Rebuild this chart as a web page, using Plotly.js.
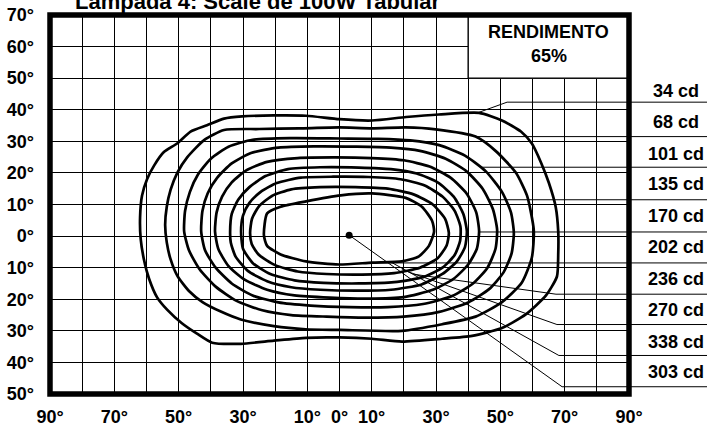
<!DOCTYPE html>
<html>
<head>
<meta charset="utf-8">
<script src="https://cdn.plot.ly/plotly-3.0.1.min.js"></script>
<style>html,body{margin:0;padding:0;background:#fff;}#chart{width:707px;height:438px;}</style>
</head>
<body>
<div id="chart"></div>
<script>
// ---- axis ticks ----
const xTickVals = [-90,-80,-70,-60,-50,-40,-30,-20,-10,0,10,20,30,40,50,60,70,80,90];
const xTickText = ['90°','','70°','','50°','','30°','','10°','0°','10°','','30°','','50°','','70°','','90°'];
const yTickVals = [-50,-40,-30,-20,-10,0,10,20,30,40,50,60,70];
const yTickText = ['50°','40°','30°','20°','10°','0°','10°','20°','30°','40°','50°','60°','70°'];

// ---- iso-candela curves (degrees) ----
const c34x = [-62.0,-61.4,-59.8,-57.6,-54.6,-50.5,-46.3,-41.2,-35.9,-30.3,-20.4,-10.4,0,10.1,20.7,30.9,43.4,50.5,56.4,59.8,62.6,65.1,67.2,68.0,68.0,67.6,64.2,57.9,50.5,41.2,31.9,19.4,10.1,0,-10.4,-20.4,-30.6,-39.6,-44.3,-49.0,-53.6,-56.7,-59.2,-60.8,-61.8,-62.0];
const c34y = [5.9,12.8,18.1,22.4,26.6,29.3,33.1,35.1,37.2,37.9,38.2,38.1,37.0,36.6,37.7,38.5,39.0,36.6,33.1,29.3,23.4,16.8,9.3,1.4,-5.8,-12.8,-18.8,-24.8,-29.1,-31.6,-32.5,-33.4,-32.5,-32.1,-32.2,-33.1,-34.1,-33.75,-30.9,-27.6,-23.3,-19.4,-13.5,-7.4,-1.0,5.9];
const c68x = [-54.2,-53.7,-52.5,-50.4,-47.3,-42.1,-35.9,-25,-12.6,0,10.1,20.6,29.9,42.3,48.6,54.8,58.3,60.4,59.8,56.7,50.5,42.3,31.9,19.4,0,-10.5,-20.4,-30.7,-36.9,-42.6,-46.8,-50.4,-52.5,-53.7,-54.2];
const c68y = [3.5,9.3,14.7,20.1,25.0,30.4,33.6,33.9,34.1,34.4,34.1,34.4,33.8,31.5,26.9,20.1,12.8,1.8,-6.8,-14.7,-20.9,-25.5,-27.9,-30.0,-29.7,-29.5,-28.5,-26.4,-23.9,-20.9,-17.4,-12.6,-7.4,-2.0,3.5];
const c101x = [-48.3,-48.0,-46.5,-44,-40,-34.5,-27,-15,0,12,22,31,39,45.5,50.5,53.3,54.2,53.5,51,46.5,40,31,20,8,-4,-15,-24,-32,-38.5,-43.5,-46.8,-48.3];
const c101y = [1.5,8,14,19.5,24.5,28.3,30.5,31,30.9,30.8,30.3,28.8,25.5,20.5,14,7.5,1,-5.5,-11.5,-16.8,-21,-24,-25.5,-25.8,-25.5,-25,-23.5,-20.5,-16,-10.5,-4.5,1.5];
const c135x = [-43.0,-42.6,-41,-38,-33.5,-27.5,-19,-8,5,16,25,33,39.5,44.5,47.7,49.0,48.5,46,41.5,35,26,15,3,-9,-19,-27,-33.5,-38.5,-41.8,-43.0];
const c135y = [1.5,8,13.5,18.5,23,26.3,28,28.4,28.3,28,27,24.5,20.5,15,8.5,2,-4,-10,-15,-19,-21.5,-22.5,-22.5,-22,-21,-18.8,-15,-10,-4.5,1.5];
const c170x = [-38.7,-38.2,-36.5,-33.5,-29,-22.5,-13,-2,10,20,28,34.5,39.5,42.5,43.4,42.7,40,35.5,29,20,9,-3,-14,-22.5,-29.5,-34.5,-37.7,-38.7];
const c170y = [1.5,7.5,12.5,17,20.8,23.5,24.7,24.9,24.7,24,22,18.5,13.5,7.5,1.5,-4,-9,-13.5,-17,-19.3,-19.8,-19.5,-18.8,-17,-13.8,-9.5,-4,1.5];
const c202x = [-34.0,-33.5,-31.5,-28,-23,-16,-6,6,16,24,30.5,35.5,38.5,39.6,39,36.5,32,25.5,16,5,-6,-15,-22.5,-28.5,-32.3,-33.8,-34.0];
const c202y = [1.5,7,11.5,15.5,19,21.2,21.8,21.7,21.2,19.8,17,12.5,7,1.5,-3.5,-8,-12,-15.3,-17,-17.3,-17,-16.2,-14.3,-11,-6.5,-2,1.5];
const c236x = [-30.6,-30,-28,-24.5,-19.5,-12,-2,9,19,26.5,32,35.8,37.6,37.5,35.8,32,26,17,6,-5,-14,-21.5,-27,-30,-30.6];
const c236y = [1.5,6.5,10.5,14,16.8,18.5,18.8,18.7,18,16,12.5,8,3,-1.5,-6,-10,-13,-14.6,-15,-14.8,-14,-12,-8.5,-4,1.5];
const c270x = [-27.8,-27.2,-25,-21,-15,-6,5,15,23,29,32.8,34.0,33.3,30.5,25,17,7,-4,-13,-20,-25,-27.3,-27.8];
const c270y = [1,5.5,9.5,12.7,14.8,15.5,15.5,15,13.2,10,5.5,1,-3,-7,-10,-11.7,-12.2,-12,-11.2,-9.2,-6,-2.5,1];
const c338x = [-23.5,-22.5,-18.3,-10.4,0.4,10.1,20.6,25.6,28.8,29.4,27.8,24.7,19.4,10.1,-0.2,-10.4,-18.3,-22.5,-23.5];
const c338y = [0.3,7.2,9.3,11.0,12.9,13.5,12.1,9.3,4.8,1.4,-3.1,-6.4,-8.0,-8.4,-9.0,-8.0,-5.8,-3.1,0.3];

const centerX = [3];
const centerY = [0.3];

// ---- legend (right column) ----
const levelLabels = ['34 cd','68 cd','101 cd','135 cd','170 cd','202 cd','236 cd','270 cd','338 cd','303 cd'];
const labelY = [46.0,36.2,25.9,16.4,6.4,-3.6,-13.5,-23.4,-33.6,-43.0];
const sepY   = [42.4,31.5,21.8,11.5,1.3,-8.5,-18.4,-28.0,-37.8,-47.7];
const leadX0 = [43.4,42.3,43.8,46.2,43.4,8,23.2,19.4,16.3,3];
const leadY0 = [39.2,31.5,21.8,11.5,1.3,-8.5,-12.1,-10.6,-8.4,0.3];
const leadXB = [52.1,42.3,43.8,46.2,43.4,8,67.3,67.6,68.2,69.2];

const rendimentoText = ['RENDIMENTO','65%'];

// ---- build ----
const FONT = '"Liberation Sans", Arial, Helvetica, sans-serif';
const curves = [[c34x,c34y],[c68x,c68y],[c101x,c101y],[c135x,c135y],[c170x,c170y],[c202x,c202y],[c236x,c236y],[c270x,c270y],[c338x,c338y]];
const traces = [];
curves.forEach(c => traces.push({
  type:'scatter', mode:'lines', x:c[0], y:c[1], hoverinfo:'skip', showlegend:false,
  line:{color:'#000', width:2.7, shape:'spline', smoothing:0.6}
}));
for (let i = 0; i < levelLabels.length; i++) {
  traces.push({type:'scatter', mode:'lines', hoverinfo:'skip', showlegend:false,
    x:[leadX0[i], leadXB[i], 90], y:[leadY0[i], sepY[i], sepY[i]],
    line:{color:'#000', width:1}});
}
traces.push({type:'scatter', mode:'markers', x:centerX, y:centerY, hoverinfo:'skip', showlegend:false,
  marker:{color:'#000', size:7}});

const shapes = [];
shapes.push({type:'rect', xref:'x', yref:'y', x0:40, x1:90, y0:50, y1:70, fillcolor:'#fff', line:{color:'#000', width:1.4}, layer:'above'});
sepY.forEach(v => shapes.push({type:'line', xref:'paper', yref:'y', x0:1, x1:1.14, y0:v, y1:v, line:{color:'#000', width:1}}));
shapes.push({type:'rect', xref:'paper', yref:'paper', x0:0, x1:1, y0:0, y1:1, line:{color:'#000', width:5.5}, layer:'above'});

const lblFont = {family:FONT, size:18, color:'#000', weight:700};
const annotations = [];
levelLabels.forEach((t, i) => annotations.push({xref:'paper', yref:'y', x:1.082, y:labelY[i], text:t, showarrow:false,
  xanchor:'center', yanchor:'middle', font:lblFont}));
annotations.push({xref:'x', yref:'y', x:65, y:64.6, text:rendimentoText[0], showarrow:false, font:lblFont});
annotations.push({xref:'x', yref:'y', x:65, y:57.0, text:rendimentoText[1], showarrow:false, font:lblFont});

const axisFont = {family:FONT, size:18, color:'#000', weight:700};
const layout = {
  width:707, height:438,
  margin:{l:50, r:78, t:15, b:44, pad:0},
  paper_bgcolor:'#fff', plot_bgcolor:'#fff',
  title:{text:'Lampada 4: Scale de 100W Tabular', font:{family:FONT, size:22, color:'#000', weight:700},
    x:75/707, xanchor:'left', y:1-1/438, yref:'container', yanchor:'middle'},
  xaxis:{range:[-90,90], tickvals:xTickVals, ticktext:xTickText, showgrid:true, gridcolor:'#000', gridwidth:1,
    zeroline:false, showline:false, ticks:'', tickfont:axisFont, ticklabelstandoff:10, fixedrange:true},
  yaxis:{range:[-50,70], tickvals:yTickVals, ticktext:yTickText, showgrid:true, gridcolor:'#000', gridwidth:1,
    zeroline:false, showline:false, ticks:'', tickfont:axisFont, ticklabelstandoff:15, fixedrange:true},
  shapes:shapes, annotations:annotations, showlegend:false
};
Plotly.newPlot('chart', traces, layout, {staticPlot:true, displayModeBar:false});
</script>
</body>
</html>
